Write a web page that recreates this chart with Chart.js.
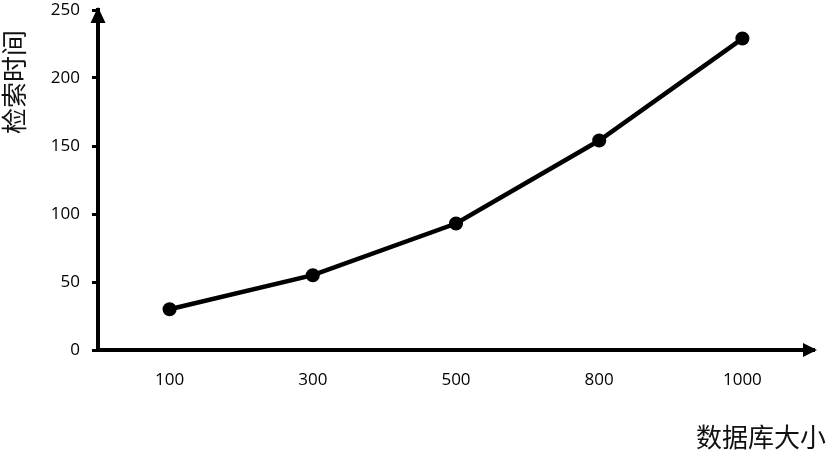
<!DOCTYPE html>
<html lang="zh">
<head>
    <meta charset="UTF-8">
    <title>检索时间</title>
    <script src="https://cdn.jsdelivr.net/npm/chart.js@4.4.0/dist/chart.umd.min.js"></script>
    <style>
        html, body { margin:0; padding:0; background:#fff; }
        #board { width:826px; height:452px; }
    </style>
</head>
<body>
    <div id="board">
        <canvas id="chart1" width="826" height="452"></canvas>
    </div>
<script>
    // 数据
    const sizes = ['100', '300', '500', '800', '1000'];   // 数据库大小
    const times = [30, 55, 93, 154, 229];                 // 检索时间
    const yTicks = [0, 50, 100, 150, 200, 250];

    const xTitle = '数据库大小';
    const yTitle = '检索时间';

    // 坐标轴箭头 + 轴标题
    const arrowPlugin = {
        id: 'arrows',
        afterDraw(chart) {
            const ctx = chart.ctx;
            const a = chart.chartArea;
            ctx.save();
            ctx.fillStyle = '#000';
            // y轴箭头
            ctx.beginPath();
            ctx.moveTo(a.left, a.top - 3);
            ctx.lineTo(a.left - 7.5, a.top + 13);
            ctx.lineTo(a.left + 7.5, a.top + 13);
            ctx.closePath();
            ctx.fill();
            // x轴箭头
            ctx.beginPath();
            ctx.moveTo(a.right + 3, a.bottom);
            ctx.lineTo(a.right - 11, a.bottom - 7);
            ctx.lineTo(a.right - 11, a.bottom + 7);
            ctx.closePath();
            ctx.fill();

            ctx.font = '26px "Noto Sans CJK SC"';
            ctx.fillStyle = '#111';
            ctx.textBaseline = 'middle';
            ctx.textAlign = 'right';
            ctx.fillText(xTitle, 826, 437);

            ctx.translate(14, 82);
            ctx.rotate(-Math.PI / 2);
            ctx.textAlign = 'center';
            ctx.fillText(yTitle, 0, 0);
            ctx.restore();
        }
    };

    const ctx = document.getElementById('chart1').getContext('2d');
    new Chart(ctx, {
        type: 'line',
        data: {
            labels: sizes,
            datasets: [{
                label: yTitle,
                data: times,
                borderColor: '#000',
                backgroundColor: '#000',
                borderWidth: 4.5,
                pointRadius: 4.8,
                pointHoverRadius: 4.8,
                tension: 0
            }]
        },
        plugins: [arrowPlugin],
        options: {
            responsive: false,
            animation: false,
            layout: { padding: { top: 10, right: 12, left: 0, bottom: 0 } },
            plugins: {
                legend: { display: false },
                tooltip: { enabled: false }
            },
            scales: {
                x: {
                    offset: true,
                    grid: { display: false, drawTicks: false },
                    border: { display: true, color: '#000', width: 4 },
                    ticks: {
                        color: '#000',
                        padding: 20,
                        font: { family: 'Open Sans', size: 17 }
                    },
                    afterFit(scale) { scale.height = 102; }
                },
                y: {
                    min: 0,
                    max: 250,
                    afterBuildTicks(scale) {
                        scale.ticks = yTicks.map(v => ({ value: v }));
                    },
                    grid: {
                        drawOnChartArea: false,
                        drawTicks: true,
                        tickLength: 6,
                        tickWidth: 3,
                        tickColor: '#000'
                    },
                    border: { display: true, color: '#000', width: 4 },
                    ticks: {
                        color: '#000',
                        padding: 12,
                        font: { family: 'Open Sans', size: 17 }
                    },
                    afterFit(scale) {
                        scale.width = 98;
                        scale.paddingTop = 0;
                        scale.paddingBottom = 0;
                    }
                }
            }
        }
    });
</script>
</body>
</html>
